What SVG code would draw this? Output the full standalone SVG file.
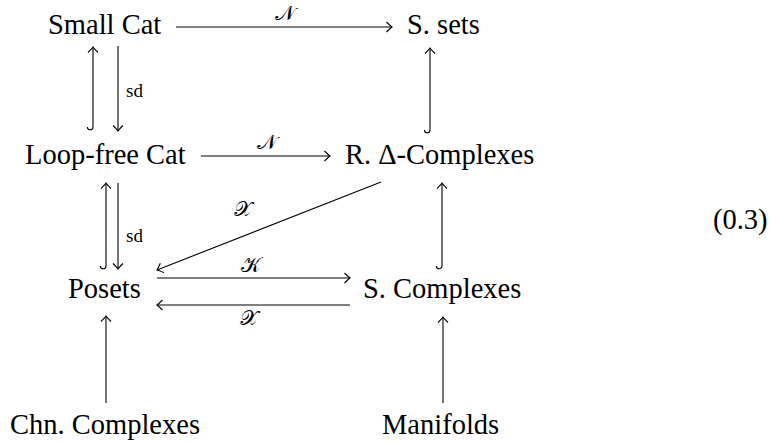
<svg xmlns="http://www.w3.org/2000/svg" width="771" height="443" viewBox="0 0 771 443">
<defs>
<path id="ah" d="M-5.5,-5 Q-1.5,-1 0,0 Q-1.5,1 -5.5,5" fill="none" stroke="#000" stroke-width="1.1"/>
</defs>
<g id="smallcat"><text font-family="Liberation Serif" font-size="28.5" x="48" y="34">Small Cat</text></g>
<g id="ssets"><text font-family="Liberation Serif" font-size="28.5" x="407" y="34">S. sets</text></g>
<g id="loopfree"><text font-family="Liberation Serif" font-size="28.5" x="25" y="164">Loop-free Cat</text></g>
<g id="rdelta"><text font-family="Liberation Serif" font-size="28.5" x="345" y="164">R. Δ-Complexes</text></g>
<g id="posets"><text font-family="Liberation Serif" font-size="28.5" x="68" y="298">Posets</text></g>
<g id="scomplexes"><text font-family="Liberation Serif" font-size="28.5" x="363" y="298">S. Complexes</text></g>
<g id="chn"><text font-family="Liberation Serif" font-size="28.5" x="10" y="434">Chn. Complexes</text></g>
<g id="manifolds"><text font-family="Liberation Serif" font-size="28.5" x="382" y="434">Manifolds</text></g>
<g id="eqnum"><text font-family="Liberation Serif" font-size="28.5" x="713" y="229">(0.3)</text></g>
<g id="connectors" fill="none" stroke="#000" stroke-width="1.1">
<path d="M176,27 H392"/>
<use href="#ah" transform="translate(392,27)"/>
<path d="M201,156 H330"/>
<use href="#ah" transform="translate(330,156)"/>
<path d="M93,127 V47 M93,127 A2.8,2.8 0 0 1 87.4,127"/>
<use href="#ah" transform="translate(93,47) rotate(-90)"/>
<path d="M118,46 V131"/>
<use href="#ah" transform="translate(118,131) rotate(90)"/>
<path d="M106,266 V183 M106,266 A2.8,2.8 0 0 1 100.4,266"/>
<use href="#ah" transform="translate(106,183) rotate(-90)"/>
<path d="M118,183 V269"/>
<use href="#ah" transform="translate(118,269) rotate(90)"/>
<path d="M430,130 V48 M430,130 A2.8,2.8 0 0 1 424.4,130"/>
<use href="#ah" transform="translate(430,48) rotate(-90)"/>
<path d="M442,266 V183 M442,266 A2.8,2.8 0 0 1 436.4,266"/>
<use href="#ah" transform="translate(442,183) rotate(-90)"/>
<path d="M381,182 L157,270"/>
<use href="#ah" transform="translate(157,270) rotate(158.55)"/>
<path d="M157,278 H350"/>
<use href="#ah" transform="translate(350,278)"/>
<path d="M350,305 H157"/>
<use href="#ah" transform="translate(157,305) rotate(180)"/>
<path d="M106,403 V316"/>
<use href="#ah" transform="translate(106,316) rotate(-90)"/>
<path d="M443,403 V317"/>
<use href="#ah" transform="translate(443,317) rotate(-90)"/>
</g>
<g id="labels">
<text font-family="Liberation Serif" font-size="21" x="285" y="20" text-anchor="middle">𝒩</text>
<text font-family="Liberation Serif" font-size="21" x="267" y="149" text-anchor="middle">𝒩</text>
<text font-family="Liberation Serif" font-size="19" x="126" y="97">sd</text>
<text font-family="Liberation Serif" font-size="19" x="126" y="242">sd</text>
<text font-family="Liberation Serif" font-size="21" x="243" y="216" text-anchor="middle">𝒳</text>
<text font-family="Liberation Serif" font-size="21" x="251" y="272" text-anchor="middle">𝒦</text>
<text font-family="Liberation Serif" font-size="21" x="249" y="325" text-anchor="middle">𝒳</text>
</g>
</svg>
